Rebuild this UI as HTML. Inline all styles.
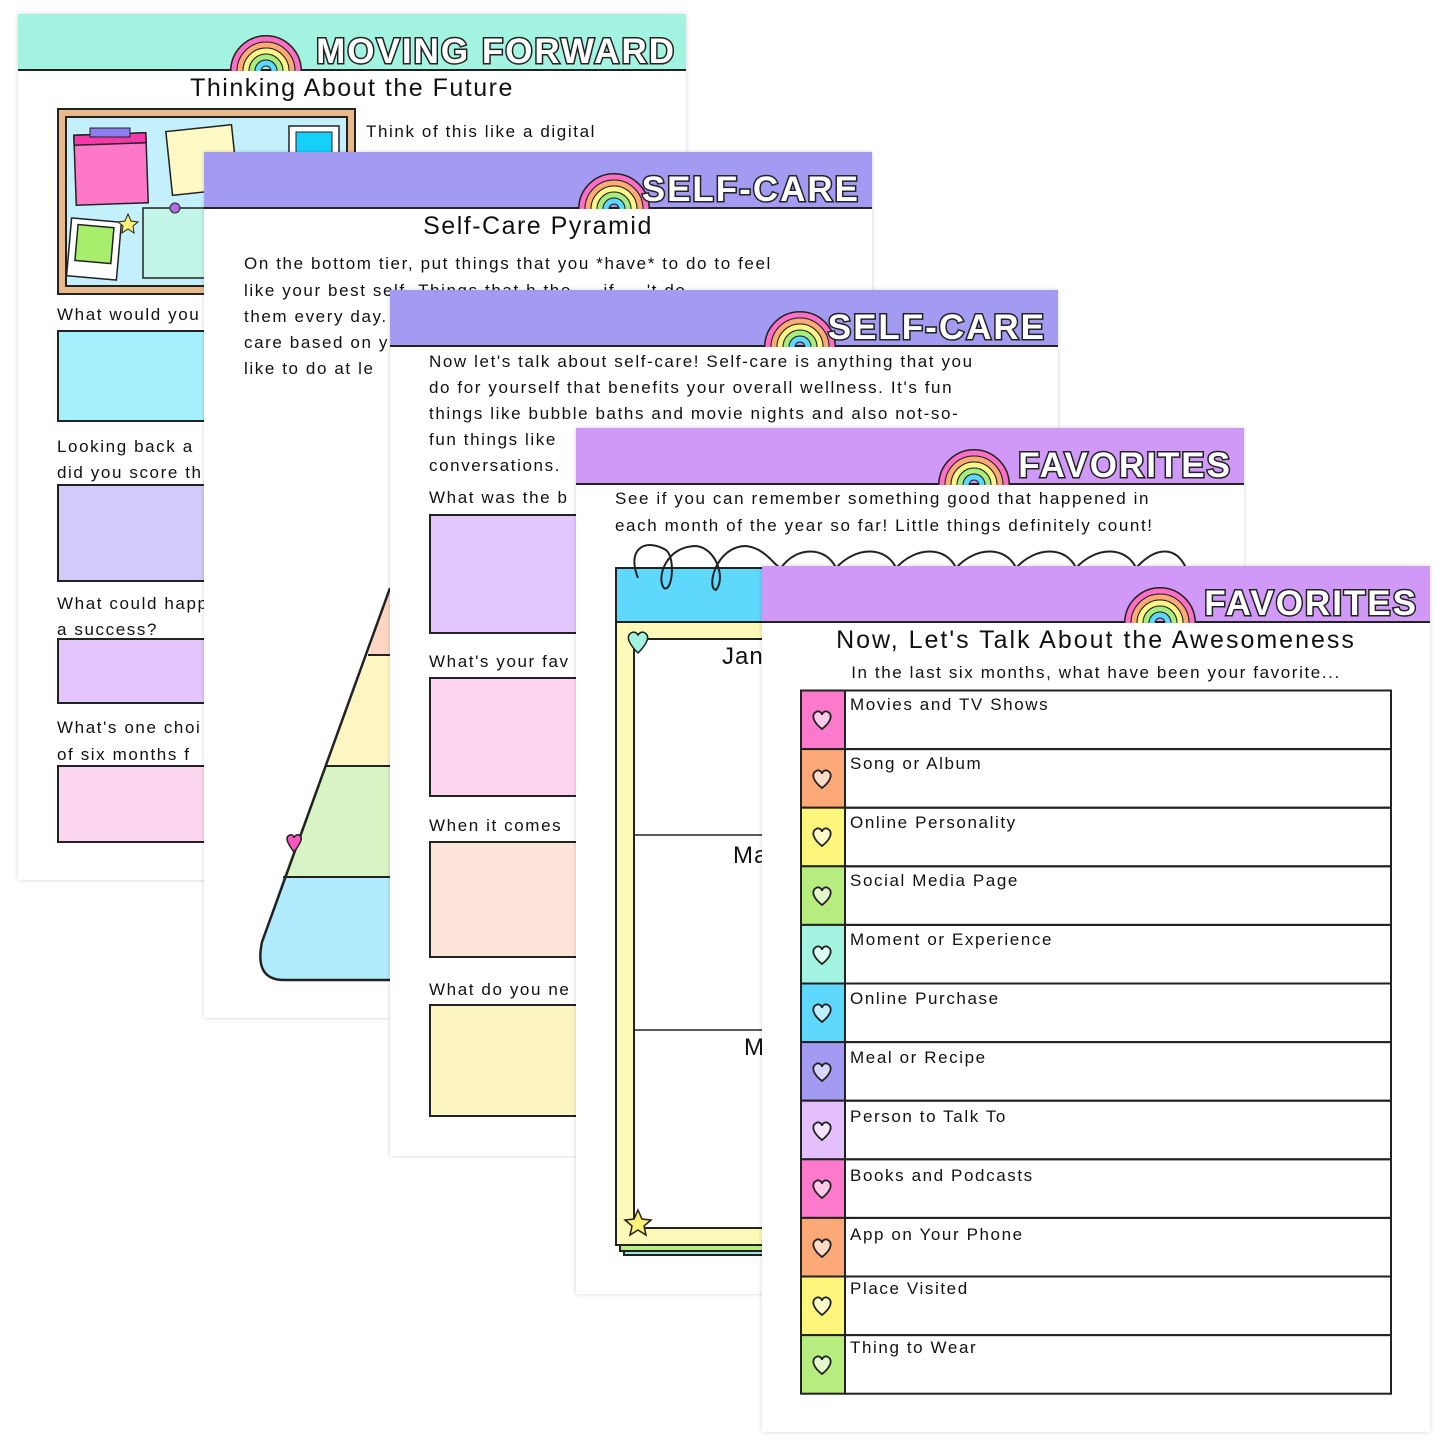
<!DOCTYPE html>
<html><head><meta charset="utf-8">
<style>
*{margin:0;padding:0;box-sizing:border-box}
body{width:1445px;height:1445px;background:#fff;position:relative;overflow:hidden;font-family:"Liberation Sans",sans-serif;color:#111}
.pg{position:absolute;width:668px;height:866px;background:#fff;box-shadow:0 0 4px rgba(0,0,0,0.18);overflow:hidden}
.hd{position:absolute;left:0;top:0;width:100%;height:57px;border-bottom:2px solid #222}
.ht{position:absolute;right:12px;top:18px;font-weight:bold;font-size:35px;letter-spacing:2px;color:#fff;-webkit-text-stroke:3px #222;paint-order:stroke fill;line-height:40px}
.rb{position:absolute;top:17px}
.t{position:absolute;font-size:17px;letter-spacing:1.6px;white-space:nowrap;line-height:26px}
.ti{position:absolute;font-size:25px;letter-spacing:1.5px;white-space:nowrap;left:0;width:100%;text-align:center}
.bx{position:absolute;border:2px solid #222}
</style></head><body>

<!-- PAGE 1 -->
<div class="pg" style="left:18px;top:14px">
  <div class="hd" style="background:#a3f3e1"></div>
  <svg class="rb" style="left:212px" width="72" height="40" viewBox="0 0 72 40"><g fill="none"><path d="M4 40A32 32 0 0 1 68 40" stroke="#222" stroke-width="8"/><path d="M4 40A32 32 0 0 1 68 40" stroke="#fb6fc4" stroke-width="5"/><path d="M10 40A26 26 0 0 1 62 40" stroke="#222" stroke-width="7"/><path d="M10 40A26 26 0 0 1 62 40" stroke="#fcaa76" stroke-width="5"/><path d="M16 40A20 20 0 0 1 56 40" stroke="#222" stroke-width="7"/><path d="M16 40A20 20 0 0 1 56 40" stroke="#fdf587" stroke-width="5"/><path d="M22 40A14 14 0 0 1 50 40" stroke="#222" stroke-width="7"/><path d="M22 40A14 14 0 0 1 50 40" stroke="#a8ec80" stroke-width="5"/><path d="M28 40A8 8 0 0 1 44 40" stroke="#222" stroke-width="7"/><path d="M28 40A8 8 0 0 1 44 40" stroke="#5fd8fd" stroke-width="5"/></g></svg>
  <div class="ht" style="right:10px">MOVING FORWARD</div>
  <div class="ti" style="top:60px">Thinking About the Future</div>
  <svg style="position:absolute;left:39px;top:94px" width="300" height="188">
    <rect x="1" y="1" width="297" height="185" fill="#e8b98a" stroke="#222" stroke-width="2"/>
    <rect x="9" y="9" width="281" height="169" fill="#c3f0fb" stroke="#222" stroke-width="2"/>
    <rect x="18" y="26" width="72" height="70" fill="#fd78c9" stroke="#222" stroke-width="1.5" transform="rotate(-2 54 60)"/>
    <rect x="18" y="26" width="72" height="10" fill="#f43aa8" stroke="#222" stroke-width="1.5" transform="rotate(-2 54 60)"/>
    <rect x="33" y="20" width="40" height="9" fill="#8d7cf0" stroke="#222" stroke-width="1"/>
    <rect x="112" y="20" width="66" height="64" fill="#fdf9c4" stroke="#222" stroke-width="1.5" transform="rotate(-6 145 52)"/>
    <rect x="86" y="100" width="210" height="70" fill="#c2f5e8" stroke="#222" stroke-width="1.5"/>
    <rect x="12" y="112" width="50" height="58" fill="#fff" stroke="#222" stroke-width="1.5" transform="rotate(5 37 141)"/>
    <rect x="19" y="118" width="36" height="36" fill="#a6ee6c" stroke="#222" stroke-width="1.5" transform="rotate(5 37 141)"/>
    <rect x="232" y="18" width="50" height="52" fill="#fff" stroke="#222" stroke-width="1.5"/>
    <rect x="239" y="24" width="36" height="30" fill="#16d0f9" stroke="#222" stroke-width="1"/>
    <polygon points="71,106 74,113 81,114 76,118 77,125 71,121 65,125 66,118 61,114 68,113" fill="#fdf176" stroke="#222" stroke-width="1"/>
    <circle cx="118" cy="100" r="5" fill="#b06ee0" stroke="#222"/>
  </svg>
  <div class="t" style="left:348px;top:105px">Think of this like a digital</div>
  <div class="t" style="left:39px;top:288px">What would you</div>
  <div class="bx" style="left:39px;top:316px;width:200px;height:92px;background:#a5f0fd"></div>
  <div class="t" style="left:39px;top:420px">Looking back a</div>
  <div class="t" style="left:39px;top:446px">did you score th</div>
  <div class="bx" style="left:39px;top:470px;width:200px;height:98px;background:#d2cbfa"></div>
  <div class="t" style="left:39px;top:577px">What could happ</div>
  <div class="t" style="left:39px;top:603px">a success?</div>
  <div class="bx" style="left:39px;top:624px;width:200px;height:66px;background:#e4c6fc"></div>
  <div class="t" style="left:39px;top:701px">What's one choi</div>
  <div class="t" style="left:39px;top:728px">of six months f</div>
  <div class="bx" style="left:39px;top:751px;width:200px;height:78px;background:#fcd6ee"></div>
</div>

<!-- PAGE 2 -->
<div class="pg" style="left:204px;top:152px">
  <div class="hd" style="background:#a39af2"></div>
  <svg class="rb" style="left:374px" width="72" height="40" viewBox="0 0 72 40"><g fill="none"><path d="M4 40A32 32 0 0 1 68 40" stroke="#222" stroke-width="8"/><path d="M4 40A32 32 0 0 1 68 40" stroke="#fb6fc4" stroke-width="5"/><path d="M10 40A26 26 0 0 1 62 40" stroke="#222" stroke-width="7"/><path d="M10 40A26 26 0 0 1 62 40" stroke="#fcaa76" stroke-width="5"/><path d="M16 40A20 20 0 0 1 56 40" stroke="#222" stroke-width="7"/><path d="M16 40A20 20 0 0 1 56 40" stroke="#fdf587" stroke-width="5"/><path d="M22 40A14 14 0 0 1 50 40" stroke="#222" stroke-width="7"/><path d="M22 40A14 14 0 0 1 50 40" stroke="#a8ec80" stroke-width="5"/><path d="M28 40A8 8 0 0 1 44 40" stroke="#222" stroke-width="7"/><path d="M28 40A8 8 0 0 1 44 40" stroke="#5fd8fd" stroke-width="5"/></g></svg>
  <div class="ht">SELF-CARE</div>
  <div class="ti" style="top:60px;left:0">Self-Care Pyramid</div>
  <div class="t" style="left:40px;top:99px">On the bottom tier, put things that you *have* to do to feel</div>
  <div class="t" style="left:40px;top:126px">like your best self. Things that h the ... if ... 't do</div>
  <div class="t" style="left:40px;top:152px">them every day.</div>
  <div class="t" style="left:40px;top:178px">care based on y</div>
  <div class="t" style="left:40px;top:204px">like to do at le</div>
  <svg style="position:absolute;left:0;top:0" width="668" height="866">
    <path d="M186 436 L164 503 L186 503 Z" fill="#fdd6c3"/>
    <path d="M164 503 L121 614 L186 614 L186 503 Z" fill="#fdf6c3"/>
    <path d="M121 614 L79 725 L186 725 L186 614 Z" fill="#d8f4c4"/>
    <path d="M79 725 L58 790 Q50 828 80 828 L186 828 L186 725 Z" fill="#b0ecfd"/>
    <path d="M186 436 L58 790 Q50 828 80 828 L186 828" fill="none" stroke="#222" stroke-width="2.5"/>
    <line x1="164" y1="503" x2="186" y2="503" stroke="#222" stroke-width="2"/>
    <line x1="121" y1="614" x2="186" y2="614" stroke="#222" stroke-width="2"/>
    <line x1="79" y1="725" x2="186" y2="725" stroke="#222" stroke-width="2"/>
    <path d="M90 700 C84 692 80 685 86 683 C89 682 90 685 90 686 C90 685 92 682 95 683 C100 685 96 692 90 700Z" fill="#fb55c0" stroke="#222" stroke-width="1.5"/>
  </svg>
</div>

<!-- PAGE 3 -->
<div class="pg" style="left:390px;top:290px">
  <div class="hd" style="background:#a39af2"></div>
  <svg class="rb" style="left:374px" width="72" height="40" viewBox="0 0 72 40"><g fill="none"><path d="M4 40A32 32 0 0 1 68 40" stroke="#222" stroke-width="8"/><path d="M4 40A32 32 0 0 1 68 40" stroke="#fb6fc4" stroke-width="5"/><path d="M10 40A26 26 0 0 1 62 40" stroke="#222" stroke-width="7"/><path d="M10 40A26 26 0 0 1 62 40" stroke="#fcaa76" stroke-width="5"/><path d="M16 40A20 20 0 0 1 56 40" stroke="#222" stroke-width="7"/><path d="M16 40A20 20 0 0 1 56 40" stroke="#fdf587" stroke-width="5"/><path d="M22 40A14 14 0 0 1 50 40" stroke="#222" stroke-width="7"/><path d="M22 40A14 14 0 0 1 50 40" stroke="#a8ec80" stroke-width="5"/><path d="M28 40A8 8 0 0 1 44 40" stroke="#222" stroke-width="7"/><path d="M28 40A8 8 0 0 1 44 40" stroke="#5fd8fd" stroke-width="5"/></g></svg>
  <div class="ht">SELF-CARE</div>
  <div class="t" style="left:39px;top:59px">Now let's talk about self-care! Self-care is anything that you</div>
  <div class="t" style="left:39px;top:85px">do for yourself that benefits your overall wellness. It's fun</div>
  <div class="t" style="left:39px;top:111px">things like bubble baths and movie nights and also not-so-</div>
  <div class="t" style="left:39px;top:137px">fun things like</div>
  <div class="t" style="left:39px;top:163px">conversations.</div>
  <div class="t" style="left:39px;top:195px">What was the b</div>
  <div class="bx" style="left:39px;top:224px;width:200px;height:120px;background:#e3c6fd"></div>
  <div class="t" style="left:39px;top:359px">What's your fav</div>
  <div class="bx" style="left:39px;top:387px;width:200px;height:120px;background:#fdd5f0"></div>
  <div class="t" style="left:39px;top:523px">When it comes</div>
  <div class="bx" style="left:39px;top:551px;width:200px;height:117px;background:#fde5da"></div>
  <div class="t" style="left:39px;top:687px">What do you ne</div>
  <div class="bx" style="left:39px;top:714px;width:200px;height:113px;background:#fdf5c1"></div>
</div>

<!-- PAGE 4 -->
<div class="pg" style="left:576px;top:428px">
  <div class="hd" style="background:#d199f7"></div>
  <svg class="rb" style="left:362px" width="72" height="40" viewBox="0 0 72 40"><g fill="none"><path d="M4 40A32 32 0 0 1 68 40" stroke="#222" stroke-width="8"/><path d="M4 40A32 32 0 0 1 68 40" stroke="#fb6fc4" stroke-width="5"/><path d="M10 40A26 26 0 0 1 62 40" stroke="#222" stroke-width="7"/><path d="M10 40A26 26 0 0 1 62 40" stroke="#fcaa76" stroke-width="5"/><path d="M16 40A20 20 0 0 1 56 40" stroke="#222" stroke-width="7"/><path d="M16 40A20 20 0 0 1 56 40" stroke="#fdf587" stroke-width="5"/><path d="M22 40A14 14 0 0 1 50 40" stroke="#222" stroke-width="7"/><path d="M22 40A14 14 0 0 1 50 40" stroke="#a8ec80" stroke-width="5"/><path d="M28 40A8 8 0 0 1 44 40" stroke="#222" stroke-width="7"/><path d="M28 40A8 8 0 0 1 44 40" stroke="#5fd8fd" stroke-width="5"/></g></svg>
  <div class="ht">FAVORITES</div>
  <div class="t" style="left:39px;top:58px">See if you can remember something good that happened in</div>
  <div class="t" style="left:39px;top:85px">each month of the year so far! Little things definitely count!</div>
  <svg style="position:absolute;left:0;top:0" width="668" height="866">
    <rect x="48" y="144" width="560" height="683" fill="#9ee7d8" stroke="#222" stroke-width="2"/>
    <rect x="44" y="140" width="560" height="683" fill="#b7ec7f" stroke="#222" stroke-width="2"/>
    <rect x="40" y="140" width="560" height="677" fill="#fdf9b8" stroke="#222" stroke-width="2"/>
    <rect x="40" y="140" width="560" height="54" fill="#5fd8fd" stroke="#222" stroke-width="2"/>
    <rect x="58" y="211" width="540" height="589" fill="#fff" stroke="#222" stroke-width="2"/>
    <line x1="58" y1="407" x2="600" y2="407" stroke="#222" stroke-width="1.5"/>
    <line x1="58" y1="602" x2="600" y2="602" stroke="#222" stroke-width="1.5"/>
    <path d="M62 150 C50 120 70 110 90 122 C100 130 96 165 88 160 C80 150 90 118 120 118 C140 120 150 150 140 162 C130 160 140 118 170 118 C190 120 200 140 205 140 C220 118 250 118 260 140 C280 118 310 118 320 140 C340 118 370 118 380 140 C400 118 430 118 440 140 C460 118 490 118 500 140 C520 118 550 118 560 140 C580 118 600 118 610 140" fill="none" stroke="#222" stroke-width="2"/>
    <path d="M62 225 C52 215 50 208 55 205 C58 203 61 205 62 207 C63 205 66 203 69 205 C74 208 72 215 62 225Z" fill="#a3f3e1" stroke="#222" stroke-width="1.5"/>
    <polygon points="62,782 66,791 75,792 68,798 70,807 62,802 54,807 56,798 49,792 58,791" fill="#fdf176" stroke="#222" stroke-width="1.5"/>
  </svg>
  <div style="position:absolute;left:146px;top:215px;font-size:24px;letter-spacing:1px">January</div>
  <div style="position:absolute;left:157px;top:414px;font-size:24px;letter-spacing:1px">March</div>
  <div style="position:absolute;left:168px;top:606px;font-size:24px;letter-spacing:1px">May</div>
</div>

<!-- PAGE 5 -->
<div class="pg" style="left:762px;top:566px">
  <div class="hd" style="background:#d199f7"></div>
  <svg class="rb" style="left:362px" width="72" height="40" viewBox="0 0 72 40"><g fill="none"><path d="M4 40A32 32 0 0 1 68 40" stroke="#222" stroke-width="8"/><path d="M4 40A32 32 0 0 1 68 40" stroke="#fb6fc4" stroke-width="5"/><path d="M10 40A26 26 0 0 1 62 40" stroke="#222" stroke-width="7"/><path d="M10 40A26 26 0 0 1 62 40" stroke="#fcaa76" stroke-width="5"/><path d="M16 40A20 20 0 0 1 56 40" stroke="#222" stroke-width="7"/><path d="M16 40A20 20 0 0 1 56 40" stroke="#fdf587" stroke-width="5"/><path d="M22 40A14 14 0 0 1 50 40" stroke="#222" stroke-width="7"/><path d="M22 40A14 14 0 0 1 50 40" stroke="#a8ec80" stroke-width="5"/><path d="M28 40A8 8 0 0 1 44 40" stroke="#222" stroke-width="7"/><path d="M28 40A8 8 0 0 1 44 40" stroke="#5fd8fd" stroke-width="5"/></g></svg>
  <div class="ht">FAVORITES</div>
  <div class="ti" style="top:60px;letter-spacing:2px">Now, Let's Talk About the Awesomeness</div>
  <div class="t" style="left:0;width:100%;text-align:center;top:94px">In the last six months, what have been your favorite...</div>
  <svg style="position:absolute;left:0;top:0" width="668" height="866">
    <defs><path id="h" d="M0 10 C-9 3 -11 -4 -6 -7 C-3 -9 0 -6 0 -4 C0 -6 3 -9 6 -7 C11 -4 9 3 0 10Z"/></defs>
    <g stroke="#222" stroke-width="2">
      <rect x="39" y="124.5" width="44" height="58.6" fill="#fb7acb"/>
      <rect x="39" y="183.1" width="44" height="58.6" fill="#fca877"/>
      <rect x="39" y="241.7" width="44" height="58.6" fill="#fdf67c"/>
      <rect x="39" y="300.3" width="44" height="58.6" fill="#b7ec7f"/>
      <rect x="39" y="358.9" width="44" height="58.6" fill="#a3f3e1"/>
      <rect x="39" y="417.5" width="44" height="58.6" fill="#5fd8fd"/>
      <rect x="39" y="476.1" width="44" height="58.6" fill="#a39af2"/>
      <rect x="39" y="534.7" width="44" height="58.6" fill="#e3bffb"/>
      <rect x="39" y="593.3" width="44" height="58.6" fill="#fb7acb"/>
      <rect x="39" y="651.9" width="44" height="58.6" fill="#fca877"/>
      <rect x="39" y="710.5" width="44" height="58.6" fill="#fdf67c"/>
      <rect x="39" y="769.1" width="44" height="58.6" fill="#b7ec7f"/>
      <rect x="83" y="124.5" width="546" height="58.6" fill="none"/>
      <rect x="83" y="183.1" width="546" height="58.6" fill="none"/>
      <rect x="83" y="241.7" width="546" height="58.6" fill="none"/>
      <rect x="83" y="300.3" width="546" height="58.6" fill="none"/>
      <rect x="83" y="358.9" width="546" height="58.6" fill="none"/>
      <rect x="83" y="417.5" width="546" height="58.6" fill="none"/>
      <rect x="83" y="476.1" width="546" height="58.6" fill="none"/>
      <rect x="83" y="534.7" width="546" height="58.6" fill="none"/>
      <rect x="83" y="593.3" width="546" height="58.6" fill="none"/>
      <rect x="83" y="651.9" width="546" height="58.6" fill="none"/>
      <rect x="83" y="710.5" width="546" height="58.6" fill="none"/>
      <rect x="83" y="769.1" width="546" height="58.6" fill="none"/>
    </g>
    <g stroke="#222" stroke-width="1.8" fill="rgba(255,255,255,0.6)">
      <use href="#h" x="60" y="153"/><use href="#h" x="60" y="212"/><use href="#h" x="60" y="270"/><use href="#h" x="60" y="329"/>
      <use href="#h" x="60" y="388"/><use href="#h" x="60" y="446"/><use href="#h" x="60" y="505"/><use href="#h" x="60" y="564"/>
      <use href="#h" x="60" y="622"/><use href="#h" x="60" y="681"/><use href="#h" x="60" y="739"/><use href="#h" x="60" y="798"/>
    </g>
  </svg>
  <div class="t" style="left:88px;top:126px">Movies and TV Shows</div>
  <div class="t" style="left:88px;top:185px">Song or Album</div>
  <div class="t" style="left:88px;top:244px">Online Personality</div>
  <div class="t" style="left:88px;top:302px">Social Media Page</div>
  <div class="t" style="left:88px;top:361px">Moment or Experience</div>
  <div class="t" style="left:88px;top:420px">Online Purchase</div>
  <div class="t" style="left:88px;top:479px">Meal or Recipe</div>
  <div class="t" style="left:88px;top:538px">Person to Talk To</div>
  <div class="t" style="left:88px;top:597px">Books and Podcasts</div>
  <div class="t" style="left:88px;top:656px">App on Your Phone</div>
  <div class="t" style="left:88px;top:710px">Place Visited</div>
  <div class="t" style="left:88px;top:769px">Thing to Wear</div>
</div>
</body></html>
